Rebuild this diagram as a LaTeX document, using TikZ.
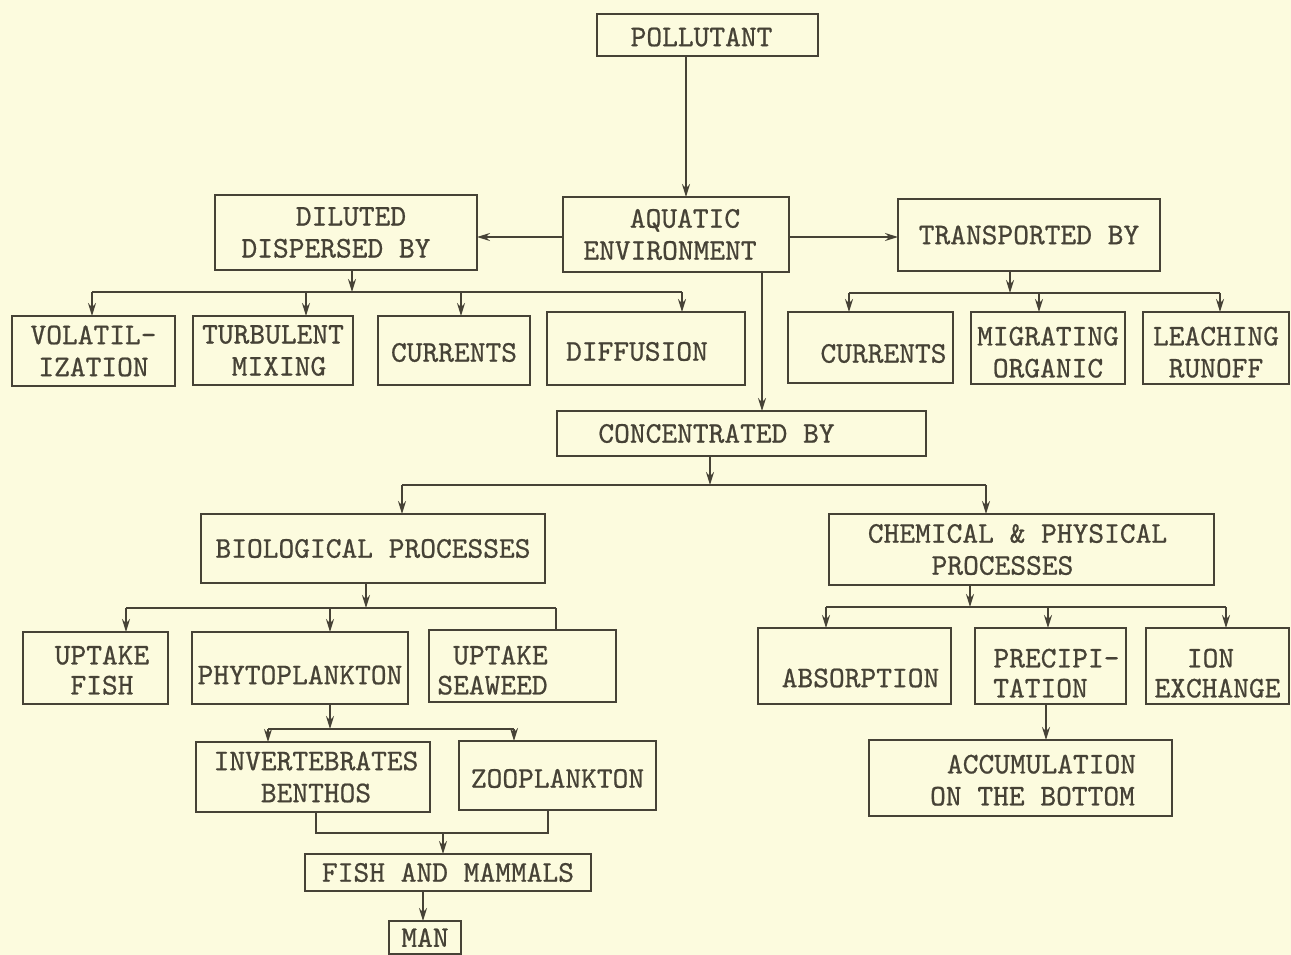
\documentclass[tikz,border=0pt]{standalone}
\usepackage{fontspec}
\newfontfamily\tw{lmmono10-regular.otf}[FakeBold=0.7]
\usetikzlibrary{arrows.meta}
\definecolor{paper}{RGB}{252,251,222}
\definecolor{ink}{RGB}{70,66,54}
\tikzset{
 box/.style={draw=ink, line width=2pt, inner sep=0pt, outer sep=0pt, align=center, text=ink, font=\tw\fontsize{30}{32}\selectfont},
 arr/.style={draw=ink, line width=1.8pt, -{Stealth[length=13pt,width=8pt]}},
 ln/.style={draw=ink, line width=1.8pt},
}
\newcommand\bx[6]{\node[box, minimum width={#4-#2}, minimum height={#5-#3}] (#1) at ({(#2+#4)/2},{(#3+#5)/2}) {#6};}
\newcommand\dn[2]{\raisebox{-#1pt}[\height][\depth]{#2}}
\newcommand\tb[1]{\begin{tabular}{@{}c@{}}#1\end{tabular}}
\begin{document}
\begin{tikzpicture}[x=1pt,y=-1pt]
\fill[paper] (0,0) rectangle (1291,955);
\useasboundingbox (0,0) rectangle (1291,955);

% boxes
\bx{poll}{597}{14}{818}{56}{\dn{2}{POLLUTANT}\hspace*{12pt}}
\bx{aq}{563}{197}{789}{272}{\hspace*{18pt}AQUATIC\\ENVIRONMENT\hspace*{12pt}}
\bx{dil}{215}{195}{477}{270}{\hspace*{10pt}DILUTED\\DISPERSED BY\hspace*{20pt}}
\bx{tr}{898}{199}{1160}{271}{TRANSPORTED BY}
\bx{vol}{12}{316}{175}{386}{VOLATIL-\\IZATION}
\bx{tur}{193}{316}{353}{385}{TURBULENT\\\hspace*{12pt}MIXING}
\bx{cur1}{378}{316}{530}{385}{\dn{2}{CURRENTS}}
\bx{dif}{547}{312}{745}{385}{\dn{3}{DIFFUSION}\hspace*{18pt}}
\bx{cur2}{788}{312}{953}{383}{\hspace*{26pt}\dn{6}{CURRENTS}}
\bx{mig}{971}{312}{1125}{384}{\dn{7}{\tb{MIGRATING\\ORGANIC}}}
\bx{lea}{1143}{312}{1289}{384}{\dn{7}{\tb{LEACHING\\RUNOFF}}}
\bx{con}{557}{411}{926}{456}{CONCENTRATED BY\hspace*{50pt}}
\bx{bio}{201}{514}{545}{583}{BIOLOGICAL PROCESSES}
\bx{che}{829}{514}{1214}{585}{CHEMICAL \& PHYSICAL\hspace*{8pt}\\PROCESSES\hspace*{38pt}}
\bx{upf}{23}{632}{168}{704}{\dn{5}{\tb{\hspace*{13pt}UPTAKE\\[-2pt]\hspace*{13pt}FISH}}}
\bx{phy}{192}{632}{408}{704}{\dn{7}{PHYTOPLANKTON}}
\bx{ups}{429}{630}{616}{702}{\dn{7}{\tb{UPTAKE\hspace*{44pt}\\[-2pt]SEAWEED\hspace*{60pt}}}}
\bx{abs}{758}{628}{951}{704}{\hspace*{12pt}\dn{12}{ABSORPTION}}
\bx{pre}{975}{628}{1126}{704}{\dn{10}{\tb{\hspace*{12pt}PRECIPI-\\[-2pt]TATION\hspace*{20pt}}}}
\bx{ion}{1146}{628}{1289}{704}{\dn{10}{\tb{ION\hspace*{14pt}\\[-2pt]EXCHANGE}}}
\bx{inv}{196}{742}{430}{812}{\hspace*{6pt}INVERTEBRATES\\\hspace*{6pt}BENTHOS}
\bx{zoo}{459}{741}{656}{810}{\dn{3}{ZOOPLANKTON}}
\bx{acc}{869}{740}{1172}{816}{\dn{5}{\tb{\hspace*{42pt}ACCUMULATION\\\hspace*{24pt}ON THE BOTTOM}}}
\bx{fam}{305}{854}{591}{891}{FISH AND MAMMALS}
\bx{man}{389}{921}{461}{954}{MAN}

% top
\draw[arr] (poll.south -| 686,0) -- (aq.north -| 686,0);
\draw[arr] (aq.west |- 0,237) -- (dil.east |- 0,237);
\draw[arr] (aq.east |- 0,237) -- (tr.west |- 0,237);

% diluted bus
\coordinate (dj) at (352,292);
\draw[arr] (dil.south -| dj) -- (dj);
\draw[ln] (dj -| 92,0) -- (dj -| 682,0);
\draw[arr] (dj -| 92,0) -- (vol.north -| 92,0);
\draw[arr] (dj -| 306,0) -- (tur.north -| 306,0);
\draw[arr] (dj -| 461,0) -- (cur1.north -| 461,0);
\draw[arr] (dj -| 682,0) -- (dif.north -| 682,0);

% transported bus
\coordinate (tj) at (1010,293);
\draw[arr] (tr.south -| tj) -- (tj);
\draw[ln] (tj -| 849,0) -- (tj -| 1220,0);
\draw[arr] (tj -| 849,0) -- (cur2.north -| 849,0);
\draw[arr] (tj -| 1039,0) -- (mig.north -| 1039,0);
\draw[arr] (tj -| 1220,0) -- (lea.north -| 1220,0);

% concentrated
\draw[arr] (aq.south -| 762,0) -- (con.north -| 762,0);
\coordinate (cj) at (710,485);
\draw[arr] (con.south -| cj) -- (cj);
\draw[ln] (cj -| 402,0) -- (cj -| 986,0);
\draw[arr] (cj -| 402,0) -- (bio.north -| 402,0);
\draw[arr] (cj -| 986,0) -- (che.north -| 986,0);

% biological bus
\coordinate (bj) at (366,608);
\draw[arr] (bio.south -| bj) -- (bj);
\draw[ln] (bj -| 126,0) -- (bj -| 556,0);
\draw[arr] (bj -| 126,0) -- (upf.north -| 126,0);
\draw[arr] (bj -| 330,0) -- (phy.north -| 330,0);
\draw[ln] (bj -| 556,0) -- (ups.north -| 556,0);

% chemical bus
\coordinate (hj) at (970,607);
\draw[arr] (che.south -| hj) -- (hj);
\draw[ln] (hj -| 826,0) -- (hj -| 1226,0);
\draw[arr] (hj -| 826,0) -- (abs.north -| 826,0);
\draw[arr] (hj -| 1048,0) -- (pre.north -| 1048,0);
\draw[arr] (hj -| 1226,0) -- (ion.north -| 1226,0);
\draw[arr] (pre.south -| 1046,0) -- (acc.north -| 1046,0);

% phytoplankton bus
\coordinate (pj) at (330,729);
\draw[arr] (phy.south -| pj) -- (pj);
\draw[ln] (pj -| 268,0) -- (pj -| 514,0);
\draw[arr] (pj -| 268,0) -- (inv.north -| 268,0);
\draw[arr] (pj -| 514,0) -- (zoo.north -| 514,0);

% join to fish and mammals
\coordinate (fj) at (443,833);
\draw[ln] (inv.south -| 316,0) |- (fj) -| (zoo.south -| 548,0);
\draw[arr] (fj) -- (fam.north -| fj);
\draw[arr] (fam.south -| 423,0) -- (man.north -| 423,0);
\end{tikzpicture}
\end{document}
